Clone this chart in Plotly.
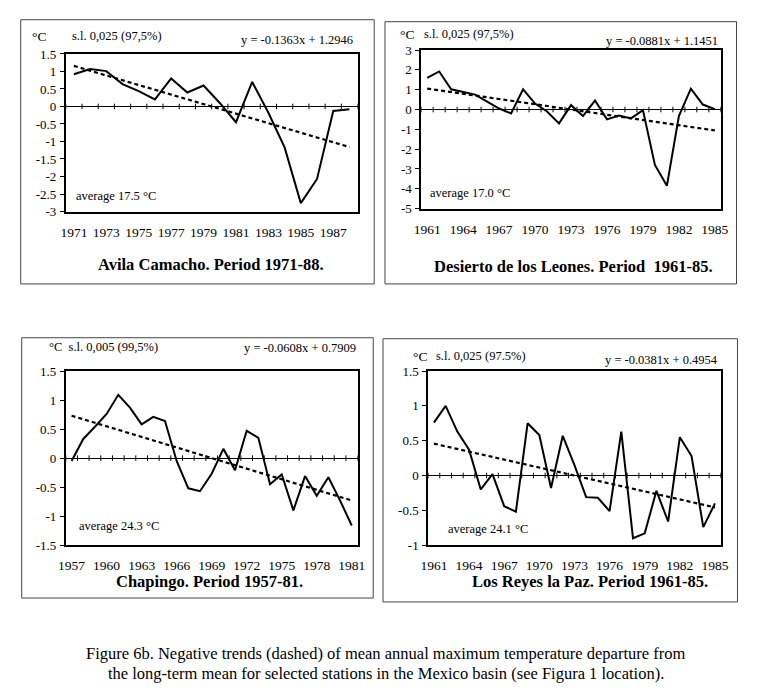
import numpy as np
import plotly.graph_objects as go

W, H = 768, 699

# ---------------- data ----------------
avila_years = list(range(1971, 1989))
avila_vals = [0.92, 1.07, 1.01, 0.64, 0.44, 0.20, 0.80, 0.40, 0.60, 0.10, -0.45,
              0.70, -0.18, -1.17, -2.76, -2.07, -0.13, -0.08]
avila_trend = (-0.1363, 1.2946)

desierto_years = list(range(1961, 1986))
desierto_vals = [1.60, 1.92, 1.02, 0.87, 0.75, 0.40, 0.05, -0.20, 1.02, 0.30, -0.10,
                 -0.70, 0.22, -0.33, 0.45, -0.50, -0.30, -0.45, -0.03, -2.80, -3.85,
                 -0.33, 1.05, 0.25, 0.02]
desierto_trend = (-0.0881, 1.1451)

chapingo_years = list(range(1957, 1982))
chapingo_vals = [-0.05, 0.33, 0.54, 0.76, 1.09, 0.87, 0.58, 0.71, 0.64, -0.05, -0.52,
                 -0.57, -0.27, 0.16, -0.21, 0.47, 0.35, -0.45, -0.28, -0.90, -0.31,
                 -0.65, -0.33, -0.73, -1.16]
chapingo_trend = (-0.0608, 0.7909)

reyes_years = list(range(1961, 1986))
reyes_vals = [0.76, 1.00, 0.63, 0.37, -0.20, 0.02, -0.44, -0.52, 0.75, 0.58, -0.18,
              0.57, 0.15, -0.31, -0.32, -0.51, 0.63, -0.90, -0.83, -0.22, -0.66,
              0.55, 0.28, -0.74, -0.40]
reyes_trend = (-0.0381, 0.4954)

avila_yticks = [1.5, 1, 0.5, 0, -0.5, -1, -1.5, -2, -2.5, -3]
desierto_yticks = [3, 2, 1, 0, -1, -2, -3, -4, -5]
chapingo_yticks = [1.5, 1, 0.5, 0, -0.5, -1, -1.5]
reyes_yticks = [1.5, 1, 0.5, 0, -0.5, -1]

titles = ["Avila Camacho. Period 1971-88.",
          "Desierto de los Leones. Period  1961-85.",
          "Chapingo. Period 1957-81.",
          "Los Reyes la Paz. Period 1961-85."]
sl_texts = ["s.l. 0,025 (97,5%)", "s.l. 0,025 (97,5%)",
            "s.l. 0,005 (99,5%)", "s.l. 0,025 (97.5%)"]
eq_texts = ["y = -0.1363x + 1.2946", "y = -0.0881x + 1.1451",
            "y = -0.0608x + 0.7909", "y = -0.0381x + 0.4954"]
avg_texts = ["average 17.5 °C", "average 17.0 °C",
             "average 24.3 °C", "average 24.1 °C"]
caption_lines = ["Figure 6b. Negative trends (dashed) of mean annual maximum temperature departure from",
                 "the long-term mean for selected stations in the Mexico basin (see Figura 1 location)."]

# ---------------- layout helpers (pixel -> paper) ----------------
def px(x):
    return x / W

def py(y):
    return 1 - y / H

SERIF = "Liberation Serif, Times New Roman, serif"

panels = [
    dict(years=avila_years, vals=avila_vals, trend=avila_trend, yticks=avila_yticks, step=2,
         plot=(59, 48, 357, 209), box=(13, 13, 374, 283),
         degc=(22, 30), sl=(63, 30), eq=(354, 34), avg=(67, 193), title=(207, 263)),
    dict(years=desierto_years, vals=desierto_vals, trend=desierto_trend, yticks=desierto_yticks, step=3,
         plot=(422, 44, 728, 206), box=(385, 15, 744, 283),
         degc=(398, 28), sl=(423, 28), eq=(727, 35), avg=(429, 190), title=(578, 265)),
    dict(years=chapingo_years, vals=chapingo_vals, trend=chapingo_trend, yticks=chapingo_yticks, step=3,
         plot=(59, 372, 357, 550), box=(14, 338, 373, 604),
         degc=(40, 347), sl=(None, None), eq=(357, 348), avg=(70, 530), title=(206, 587)),
    dict(years=reyes_years, vals=reyes_vals, trend=reyes_trend, yticks=reyes_yticks, step=3,
         plot=(429, 372, 728, 550), box=(383, 339, 745, 608),
         degc=(412, 357), sl=(435, 357), eq=(727, 361), avg=(447, 533), title=(594, 587)),
]

fig = go.Figure()
annotations = []
shapes = []
layout_axes = {}

for k, p in enumerate(panels):
    idx = "" if k == 0 else str(k + 1)
    xa, ya = "x" + idx, "y" + idx
    years = np.array(p["years"], dtype=float)
    vals = np.array(p["vals"], dtype=float)
    slope, icpt = p["trend"]
    n_idx = np.arange(1, len(years) + 1)
    trend_vals = slope * n_idx + icpt

    # category boundary ticks on the zero line
    bounds = np.append(years - 0.5, years[-1] + 0.5)
    fig.add_trace(go.Scatter(x=bounds, y=np.zeros_like(bounds), mode="markers",
                             marker=dict(symbol="line-ns", size=4,
                                         line=dict(color="black", width=1)),
                             xaxis=xa, yaxis=ya, showlegend=False, hoverinfo="skip"))
    fig.add_trace(go.Scatter(x=years, y=trend_vals, mode="lines",
                             line=dict(color="black", width=2.2, dash="4px,3px"),
                             xaxis=xa, yaxis=ya, showlegend=False))
    fig.add_trace(go.Scatter(x=years, y=vals, mode="lines",
                             line=dict(color="black", width=2),
                             xaxis=xa, yaxis=ya, showlegend=False))

    x0, y0, x1, y1 = p["plot"]
    yt = p["yticks"]
    xt = list(p["years"][::p["step"]])
    layout_axes["xaxis" + idx] = dict(
        domain=[px(x0), px(x1)], anchor=ya,
        range=[years[0] - 0.5, years[-1] + 0.5],
        tickvals=xt, ticktext=[str(v) for v in xt],
        showline=True, mirror=True, linecolor="black", linewidth=1.6,
        ticks="", showgrid=False, zeroline=False, ticklabelstandoff=7,
        tickfont=dict(family=SERIF, size=13.5, color="black"), fixedrange=True)
    layout_axes["yaxis" + idx] = dict(
        domain=[py(y1), py(y0)], anchor=xa,
        range=[min(yt), max(yt)],
        tickvals=yt, ticktext=[f"{v:g}" for v in yt],
        showline=True, mirror=True, linecolor="black", linewidth=1.6,
        ticks="outside", ticklen=4, tickcolor="black", showgrid=False,
        zeroline=True, zerolinecolor="black", zerolinewidth=1,
        ticklabelstandoff=1,
        tickfont=dict(family=SERIF, size=13, color="black"), fixedrange=True)

    bx0, by0, bx1, by1 = p["box"]
    shapes.append(dict(type="rect", xref="paper", yref="paper",
                       x0=px(bx0), x1=px(bx1), y0=py(by1), y1=py(by0),
                       line=dict(color="#444", width=1), layer="below"))

    f = dict(family=SERIF, size=12.5, color="black")
    if p["sl"][0] is None:
        annotations.append(dict(x=px(p["degc"][0]), y=py(p["degc"][1]), xref="paper", yref="paper",
                                text="°C  " + sl_texts[k], showarrow=False,
                                xanchor="left", yanchor="middle", font=f))
    else:
        annotations.append(dict(x=px(p["degc"][0]), y=py(p["degc"][1]), xref="paper", yref="paper",
                                text="°C", showarrow=False, xanchor="left", yanchor="middle",
                                font=dict(family=SERIF, size=13.5, color="black")))
        annotations.append(dict(x=px(p["sl"][0]), y=py(p["sl"][1]), xref="paper", yref="paper",
                                text=sl_texts[k], showarrow=False, xanchor="left",
                                yanchor="middle", font=f))
    annotations.append(dict(x=px(p["eq"][0]), y=py(p["eq"][1]), xref="paper", yref="paper",
                            text=eq_texts[k], showarrow=False, xanchor="right",
                            yanchor="middle", font=f))
    annotations.append(dict(x=px(p["avg"][0]), y=py(p["avg"][1]), xref="paper", yref="paper",
                            text=avg_texts[k], showarrow=False, xanchor="left",
                            yanchor="middle", font=f))
    annotations.append(dict(x=px(p["title"][0]), y=py(p["title"][1]), xref="paper", yref="paper",
                            text="<b>" + titles[k] + "</b>", showarrow=False, xanchor="center",
                            yanchor="middle", font=dict(family=SERIF, size=16.5, color="black")))

for line, yy in zip(caption_lines, (661, 681)):
    annotations.append(dict(x=px(386), y=py(yy), xref="paper", yref="paper",
                            text=line, showarrow=False, xanchor="center", yanchor="middle",
                            font=dict(family=SERIF, size=16.5, color="black")))

fig.update_layout(width=W, height=H, margin=dict(l=0, r=0, t=0, b=0),
                  paper_bgcolor="white", plot_bgcolor="white",
                  annotations=annotations, shapes=shapes, **layout_axes)

fig.write_html("out.html", config={"displayModeBar": False},
               post_script="document.body.style.margin='0';document.body.style.overflow='hidden';")
